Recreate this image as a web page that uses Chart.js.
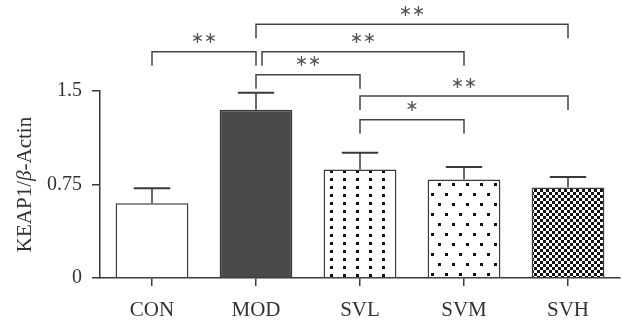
<!DOCTYPE html>
<html>
<head>
<meta charset="utf-8">
<script src="https://cdn.jsdelivr.net/npm/chart.js@4"></script>
<style>
    html, body { margin: 0; padding: 0; background: #fff; }
    canvas { display: block; }
</style>
</head>
<body>
<canvas id="grafico" width="623" height="322"></canvas>
<script>
// Datos del gráfico
const grupos = ["CON", "MOD", "SVL", "SVM", "SVH"];
const medias = [0.60, 1.35, 0.87, 0.79, 0.725];
const errores = [0.12, 0.135, 0.135, 0.10, 0.085];
const ticksY = [0, 0.75, 1.5];

// Comparaciones: grupo inicial, grupo final, altura (unidades del eje Y) y etiqueta
const compDesde = [1, 0, 1, 1, 2, 2];
const compHasta = [4, 1, 3, 2, 4, 3];
const compNivel = [2.035, 1.815, 1.815, 1.63, 1.46, 1.27];
const compTexto = ["**", "**", "**", "**", "**", "*"];

const colorLinea = "#3a3a3a";
const fuente = "'Liberation Serif', 'Times New Roman', serif";

const canvas = document.getElementById("grafico");
const ctx = canvas.getContext("2d");

// Crear trama de cuadritos para el relleno de las barras
function crearTrama(w, h, fondo, tinta, cuadros) {
    const c = document.createElement("canvas");
    c.width = w;
    c.height = h;
    const g = c.getContext("2d");
    g.fillStyle = fondo;
    g.fillRect(0, 0, w, h);
    g.fillStyle = tinta;
    cuadros.forEach(([x, y, s]) => g.fillRect(x, y, s, s));
    return ctx.createPattern(c, "repeat");
}

const rellenos = [
    "#ffffff",
    "#48494b",
    crearTrama(13, 8, "#ffffff", "#111111", [[5, 2, 3]]),
    crearTrama(14, 20, "#ffffff", "#111111", [[4, 3, 3], [11, 13, 3]]),
    crearTrama(6, 6, "#111111", "#ffffff", [[0, 0, 3], [3, 3, 3]]),
];

// Barras de error
const pluginErrores = {
    id: "errores",
    afterDatasetsDraw(chart) {
        const { ctx, scales: { y } } = chart;
        ctx.save();
        ctx.strokeStyle = colorLinea;
        chart.getDatasetMeta(0).data.forEach((barra, i) => {
            const yBase = y.getPixelForValue(medias[i]);
            const yTope = y.getPixelForValue(medias[i] + errores[i]);
            const mitad = barra.width / 4;
            ctx.lineWidth = 1.5;
            ctx.beginPath();
            ctx.moveTo(barra.x, yBase);
            ctx.lineTo(barra.x, yTope);
            ctx.stroke();
            ctx.lineWidth = 2;
            ctx.beginPath();
            ctx.moveTo(barra.x - mitad, yTope);
            ctx.lineTo(barra.x + mitad, yTope);
            ctx.stroke();
        });
        ctx.restore();
    }
};

// Corchetes de significación
const pluginComparaciones = {
    id: "comparaciones",
    afterDatasetsDraw(chart) {
        const { ctx, scales: { x, y } } = chart;
        const pata = 14;
        ctx.save();
        ctx.strokeStyle = "#444444";
        ctx.lineWidth = 1.5;
        ctx.fillStyle = "#555555";
        ctx.font = "16px 'DejaVu Sans'";
        ctx.textAlign = "center";
        ctx.textBaseline = "middle";
        compDesde.forEach((desde, i) => {
            let x1 = x.getPixelForValue(desde);
            const x2 = x.getPixelForValue(compHasta[i]);
            const yy = y.getPixelForValue(compNivel[i]);
            // si otro corchete al mismo nivel acaba en este grupo, se separa un poco
            if (compHasta.some((h, j) => j !== i && h === desde && compNivel[j] === compNivel[i])) x1 += 6;
            ctx.beginPath();
            ctx.moveTo(x1, yy + pata);
            ctx.lineTo(x1, yy);
            ctx.lineTo(x2, yy);
            ctx.lineTo(x2, yy + pata);
            ctx.stroke();
            const n = compTexto[i].length;
            const centro = (x1 + x2) / 2;
            for (let k = 0; k < n; k++) {
                ctx.fillText("\u2217", centro + (k - (n - 1) / 2) * 13, yy - 12.5);
            }
        });
        ctx.restore();
    }
};

// Título del eje Y con la beta en cursiva
const pluginTituloY = {
    id: "tituloY",
    afterDraw(chart) {
        const { ctx, chartArea } = chart;
        const partes = [["KEAP1/", ""], ["\u03b2", "italic "], ["-Actin", ""]];
        ctx.save();
        ctx.translate(25, (chartArea.top + chartArea.bottom) / 2);
        ctx.rotate(-Math.PI / 2);
        ctx.fillStyle = "#333333";
        ctx.textBaseline = "middle";
        let total = 0;
        partes.forEach(([t, estilo]) => {
            ctx.font = estilo + "21px " + fuente;
            total += ctx.measureText(t).width;
        });
        let pos = -total / 2;
        partes.forEach(([t, estilo]) => {
            ctx.font = estilo + "21px " + fuente;
            ctx.fillText(t, pos, 0);
            pos += ctx.measureText(t).width;
        });
        ctx.restore();
    }
};

new Chart(ctx, {
    type: "bar",
    data: {
        labels: grupos,
        datasets: [{
            data: medias,
            backgroundColor: rellenos,
            borderColor: colorLinea,
            borderWidth: 1.5,
            barPercentage: 0.7,
            categoryPercentage: 1,
        }],
    },
    options: {
        responsive: false,
        animation: false,
        devicePixelRatio: 1,
        layout: { padding: { top: 91, right: 3, left: 0, bottom: 0 } },
        plugins: {
            legend: { display: false },
            tooltip: { enabled: false },
        },
        scales: {
            x: {
                grid: { offset: false, drawOnChartArea: false, tickLength: 8, color: colorLinea, lineWidth: 1.5 },
                border: { color: colorLinea, width: 1.5 },
                ticks: { font: { family: fuente, size: 21 }, color: "#333333", padding: 12 },
                afterFit: (s) => { s.height = 44; },
            },
            y: {
                min: 0,
                max: 1.5,
                afterBuildTicks: (s) => { s.ticks = ticksY.map(v => ({ value: v })); },
                grid: { drawOnChartArea: false, tickLength: 8, color: colorLinea, lineWidth: 1.5 },
                border: { color: colorLinea, width: 1.5 },
                ticks: { font: { family: fuente, size: 20 }, color: "#333333", padding: 10, callback: (v) => String(v) },
                afterFit: (s) => { s.width = 100; },
            },
        },
    },
    plugins: [pluginErrores, pluginComparaciones, pluginTituloY],
});
</script>
</body>
</html>
